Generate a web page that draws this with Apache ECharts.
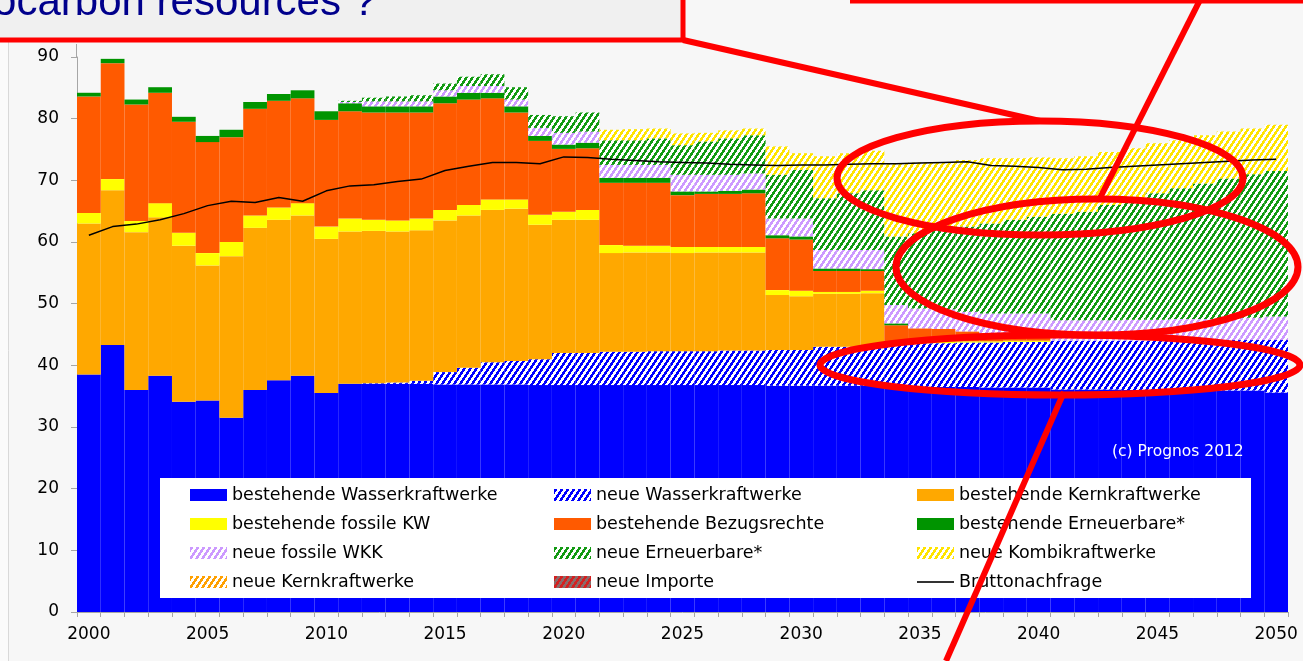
<!DOCTYPE html>
<html>
<head>
<meta charset="utf-8">
<script src="https://cdn.jsdelivr.net/npm/echarts@6/dist/echarts.min.js"></script>
<style>
  html, body { margin: 0; padding: 0; background: #F7F7F7; }
  #chart { width: 1303px; height: 661px; }
</style>
</head>
<body>
<div id="chart"></div>
<script>
// years 2000..2050
const years = [];
for (let y = 2000; y <= 2050; y++) years.push(String(y));

// TWh per year (bottom to top)
const hydroOld = [38.5, 43.3, 36.0, 38.3, 34.1, 34.3, 31.5, 36.0, 37.6, 38.3, 35.5,
  37.0, 37.0, 37.0, 37.0, 36.9, 36.9, 36.9, 36.9, 36.8, 36.8, 36.8,
  36.8, 36.8, 36.8, 36.8, 36.8, 36.8, 36.8, 36.7, 36.7, 36.7, 36.7, 36.7,
  36.6, 36.5, 36.5, 36.5, 36.4, 36.4, 36.4, 36.1, 36.1, 36.1, 36.0, 36.0, 36.0, 36.0, 35.9, 35.9, 35.6];
const hydroNew = [0, 0, 0, 0, 0, 0, 0, 0, 0, 0, 0,
  0, 0.1, 0.2, 0.5, 2.0, 2.7, 3.6, 3.8, 4.2, 5.2, 5.2,
  5.4, 5.4, 5.5, 5.5, 5.5, 5.6, 5.6, 5.8, 5.8, 6.3, 6.3, 6.4,
  6.9, 7.1, 7.1, 7.2, 7.3, 7.4, 7.4, 7.9, 7.9, 7.9, 8.0, 8.0, 8.1, 8.1, 8.2, 8.2, 8.5];
const nuclearOld = [24.5, 25.1, 25.6, 25.7, 25.3, 21.9, 26.2, 26.3, 26.0, 26.0, 25.0,
  24.7, 24.7, 24.5, 24.4, 24.6, 24.7, 24.7, 24.7, 21.8, 21.6, 21.6,
  16.0, 16.1, 16.0, 15.9, 16.0, 15.9, 15.9, 8.9, 8.7, 8.6, 8.6, 8.6,
  0, 0, 0, 0, 0, 0, 0, 0, 0, 0, 0, 0, 0, 0, 0, 0, 0];
const fossilOld = [1.7, 1.8, 1.8, 2.3, 2.1, 2.0, 2.3, 2.0, 2.0, 2.0, 2.0,
  2.1, 1.8, 1.8, 1.9, 1.7, 1.7, 1.7, 1.5, 1.6, 1.3, 1.6,
  1.3, 1.1, 1.1, 1.0, 0.9, 0.9, 0.9, 0.8, 0.9, 0.3, 0.3, 0.4,
  0.3, 0.3, 0.3, 0.2, 0.2, 0.2, 0.2, 0, 0, 0, 0, 0, 0, 0, 0, 0, 0];
const contracts = [18.9, 18.8, 18.9, 17.9, 18.0, 18.0, 17.0, 17.3, 17.3, 17.0, 17.3,
  17.4, 17.4, 17.5, 17.2, 17.3, 17.1, 16.4, 14.1, 12.0, 10.2, 10.0,
  10.1, 10.2, 10.2, 8.4, 8.6, 8.6, 8.7, 8.4, 8.3, 3.4, 3.4, 3.2,
  2.7, 2.1, 2.0, 1.6, 1.3, 1.0, 0.8, 0, 0, 0, 0, 0, 0, 0, 0, 0, 0];
const renewOld = [0.6, 0.7, 0.8, 0.9, 0.8, 1.0, 1.2, 1.1, 1.1, 1.3, 1.4,
  1.3, 1.0, 1.0, 1.0, 1.1, 1.1, 0.9, 1.0, 0.8, 0.7, 0.9,
  0.8, 0.8, 0.8, 0.6, 0.4, 0.5, 0.6, 0.5, 0.5, 0.4, 0.4, 0.3,
  0.3, 0, 0, 0, 0, 0, 0, 0, 0, 0, 0, 0, 0, 0, 0, 0, 0];
const fossilNew = [0, 0, 0, 0, 0, 0, 0, 0, 0, 0, 0,
  0.2, 0.8, 0.8, 0.8, 1.0, 1.1, 1.1, 1.1, 1.3, 1.9, 1.8,
  2.1, 2.1, 2.1, 2.7, 2.7, 2.6, 2.6, 2.7, 2.9, 3.0, 3.0, 3.1,
  3.0, 3.2, 3.2, 3.2, 3.2, 3.4, 3.6, 3.3, 3.3, 3.3, 3.4, 3.4, 3.4, 3.4, 3.5, 3.6, 3.8];
const renewNew = [0, 0, 0, 0, 0, 0, 0, 0, 0, 0, 0,
  0.2, 0.6, 0.8, 1.0, 1.1, 1.5, 1.9, 2.0, 2.1, 2.7, 3.1,
  4.0, 4.0, 4.3, 4.8, 5.4, 5.9, 6.2, 7.1, 7.9, 8.4, 9.2, 9.7,
  11.1, 12.2, 13.1, 13.8, 14.6, 15.2, 15.7, 17.3, 17.6, 18.7, 19.7, 20.5, 21.2, 22.0, 22.7, 23.3, 23.6];
const combined = [0, 0, 0, 0, 0, 0, 0, 0, 0, 0, 0,
  0, 0, 0, 0, 0, 0, 0, 0, 0, 0, 0,
  1.7, 1.8, 1.6, 1.9, 1.4, 1.3, 1.1, 4.6, 2.7, 6.8, 6.5, 6.4,
  11.9, 11.5, 10.7, 10.8, 10.6, 10.0, 9.6, 9.0, 9.0, 8.6, 8.1, 8.1, 7.8, 7.8, 7.6, 7.4, 7.5];
const nuclearNew = [0, 0, 0, 0, 0, 0, 0, 0, 0, 0, 0,
  0, 0, 0, 0, 0, 0, 0, 0, 0, 0, 0,
  0, 0, 0, 0, 0, 0, 0, 0, 0, 0, 0, 0,
  0, 0, 0, 0, 0, 0, 0, 0, 0, 0, 0, 0, 0, 0, 0, 0, 0];
const importsNew = [0, 0, 0, 0, 0, 0, 0, 0, 0, 0, 0,
  0, 0, 0, 0, 0, 0, 0, 0, 0, 0, 0,
  0, 0, 0, 0, 0, 0, 0, 0, 0, 0, 0, 0,
  0, 0, 0, 0, 0, 0, 0, 0, 0, 0, 0, 0, 0, 0, 0, 0, 0];
const demand = [61.1, 62.5, 62.9, 63.6, 64.6, 65.9, 66.6, 66.4, 67.2, 66.6, 68.3,
  69.1, 69.3, 69.8, 70.2, 71.6, 72.3, 72.9, 72.9, 72.7, 73.8, 73.7,
  73.4, 73.2, 73.0, 72.9, 72.8, 72.6, 72.5, 72.4, 72.5, 72.5, 72.6, 72.7,
  72.7, 72.8, 72.9, 73.0, 72.4, 72.3, 72.1, 71.7, 71.8, 72.1, 72.3, 72.5, 72.7, 72.9, 73.1, 73.3, 73.4];

const yTicks = [0, 10, 20, 30, 40, 50, 60, 70, 80, 90];

// diagonal hatch tile, like the excel "wide upward diagonal" fill
function hatch(fg, bg) {
  const c = document.createElement('canvas');
  c.width = 6; c.height = 9;
  const ctx = c.getContext('2d');
  ctx.fillStyle = bg;
  ctx.fillRect(0, 0, 6, 9);
  ctx.fillStyle = fg;
  for (let x = 0; x < 6; x++) {
    for (let y = 0; y < 9; y++) {
      if ((3 * x + 2 * y) % 18 < 9) ctx.fillRect(x, y, 1, 1);
    }
  }
  return { image: c, repeat: 'repeat' };
}

const stack = [
  { name: 'bestehende Wasserkraftwerke', data: hydroOld, color: '#0000FF' },
  { name: 'neue Wasserkraftwerke', data: hydroNew, color: hatch('#0000FF', '#FFFFFF') },
  { name: 'bestehende Kernkraftwerke', data: nuclearOld, color: '#FFA800' },
  { name: 'bestehende fossile KW', data: fossilOld, color: '#FFFF00' },
  { name: 'bestehende Bezugsrechte', data: contracts, color: '#FF5A00' },
  { name: 'bestehende Erneuerbare*', data: renewOld, color: '#009400' },
  { name: 'neue fossile WKK', data: fossilNew, color: hatch('#CC99FF', '#FFFFFF') },
  { name: 'neue Erneuerbare*', data: renewNew, color: hatch('#139A13', '#FFFFFF') },
  { name: 'neue Kombikraftwerke', data: combined, color: hatch('#FFE400', '#FFFFFF') },
  { name: 'neue Kernkraftwerke', data: nuclearNew, color: hatch('#FFA000', '#FFFFFF') },
  { name: 'neue Importe', data: importsNew, color: hatch('#D42020', '#8A6A6A') }
];

const series = stack.map(s => ({
  name: s.name,
  type: 'bar',
  stack: 'supply',
  data: s.data,
  barCategoryGap: '0%',
  itemStyle: { color: s.color },
  emphasis: { disabled: true },
  z: 2
}));
series.push({
  name: 'Bruttonachfrage',
  type: 'line',
  data: demand,
  symbol: 'none',
  lineStyle: { color: '#000000', width: 1.5 },
  itemStyle: { color: '#333333' },
  z: 5
});

const legendFont = { fontSize: 17.5, fontFamily: 'DejaVu Sans', color: '#000', lineHeight: 20 };
function col(left, top, items, keep) {
  return {
    orient: 'vertical',
    left: left,
    top: top,
    padding: 0,
    itemWidth: 37,
    itemHeight: 12,
    itemGap: 9,
    selectedMode: false,
    symbolKeepAspect: !!keep,
    textStyle: legendFont,
    z: 10,
    data: items
  };
}
const rectItem = n => ({ name: n, icon: 'rect' });

const red = '#FF0000';
const chart = echarts.init(document.getElementById('chart'));
chart.setOption({
  animation: false,
  backgroundColor: '#F7F7F7',
  grid: { left: 77, right: 15, top: 57, bottom: 49 },
  xAxis: {
    type: 'category',
    data: years,
    boundaryGap: true,
    axisLine: { lineStyle: { color: '#A6A6A6', width: 1 } },
    axisTick: { show: true, interval: 0, length: 5, lineStyle: { color: '#A6A6A6' } },
    axisLabel: { interval: 4, margin: 14, fontSize: 17, fontFamily: 'DejaVu Sans', color: '#000' },
    splitLine: { show: false }
  },
  yAxis: {
    type: 'value',
    min: yTicks[0],
    max: yTicks[yTicks.length - 1],
    interval: 10,
    axisLine: { show: true, lineStyle: { color: '#A6A6A6', width: 1 } },
    axisTick: { show: true, length: 6, lineStyle: { color: '#A6A6A6' } },
    axisLabel: { margin: 18, fontSize: 17, fontFamily: 'DejaVu Sans', color: '#000' },
    splitLine: { show: false }
  },
  legend: [
    col(190, 485, ['bestehende Wasserkraftwerke', 'bestehende fossile KW', 'neue fossile WKK', 'neue Kernkraftwerke'].map(rectItem)),
    col(554, 485, ['neue Wasserkraftwerke', 'bestehende Bezugsrechte', 'neue Erneuerbare*', 'neue Importe'].map(rectItem)),
    col(917, 485, ['bestehende Kernkraftwerke', 'bestehende Erneuerbare*', 'neue Kombikraftwerke'].map(rectItem)),
    col(917, 572, [{ name: 'Bruttonachfrage', icon: 'path://M0,0H37V2H0Z' }], true)
  ],
  series: series,
  graphic: [
    // left margin and border of the chart area
    { type: 'rect', shape: { x: 0, y: 40, width: 8.5, height: 621 }, style: { fill: '#FBFBFB' }, z: 1 },
    { type: 'line', shape: { x1: 8.5, y1: 40, x2: 8.5, y2: 661 }, style: { stroke: '#D9D9D9', lineWidth: 1 }, z: 1 },
    { type: 'line', shape: { x1: 76.5, y1: 44, x2: 76.5, y2: 57 }, style: { stroke: '#A6A6A6', lineWidth: 1 }, z: 1 },
    // white box behind the legend
    { type: 'rect', shape: { x: 160, y: 478, width: 1091, height: 120 }, style: { fill: '#FFFFFF' }, z: 3 },
    { type: 'text', x: 1112, y: 452, style: { text: '(c) Prognos 2012', fill: '#FFFFFF', font: '15.5px "DejaVu Sans"', verticalAlign: 'middle' }, z: 6 },
    // title box, cut at the top of the picture
    { type: 'rect', shape: { x: -5, y: -5, width: 688, height: 45 }, style: { fill: '#F0F0F0', stroke: red, lineWidth: 5 }, z: 100 },
    { type: 'text', x: 376, y: 3, style: { text: 'ocarbon resources ?', fill: '#00008C', font: '42px "Liberation Sans"', align: 'right', verticalAlign: 'middle' }, z: 101 },
    // red annotations
    { type: 'line', shape: { x1: 850, y1: 1.5, x2: 1303, y2: 1.5 }, style: { stroke: red, lineWidth: 4 }, z: 100 },
    { type: 'line', shape: { x1: 683, y1: 40, x2: 1040, y2: 121 }, style: { stroke: red, lineWidth: 6 }, z: 100 },
    { type: 'line', shape: { x1: 1200, y1: 0, x2: 1100, y2: 198 }, style: { stroke: red, lineWidth: 6 }, z: 100 },
    { type: 'line', shape: { x1: 1064, y1: 392, x2: 946, y2: 661 }, style: { stroke: red, lineWidth: 6 }, z: 100 },
    { type: 'ellipse', shape: { cx: 1040, cy: 178, rx: 203, ry: 57 }, style: { fill: 'none', stroke: red, lineWidth: 7 }, z: 100 },
    { type: 'ellipse', shape: { cx: 1097, cy: 267, rx: 201, ry: 68 }, style: { fill: 'none', stroke: red, lineWidth: 7 }, z: 100 },
    { type: 'ellipse', shape: { cx: 1060, cy: 365, rx: 240, ry: 30 }, style: { fill: 'none', stroke: red, lineWidth: 7 }, z: 100 }
  ]
});
</script>
</body>
</html>
